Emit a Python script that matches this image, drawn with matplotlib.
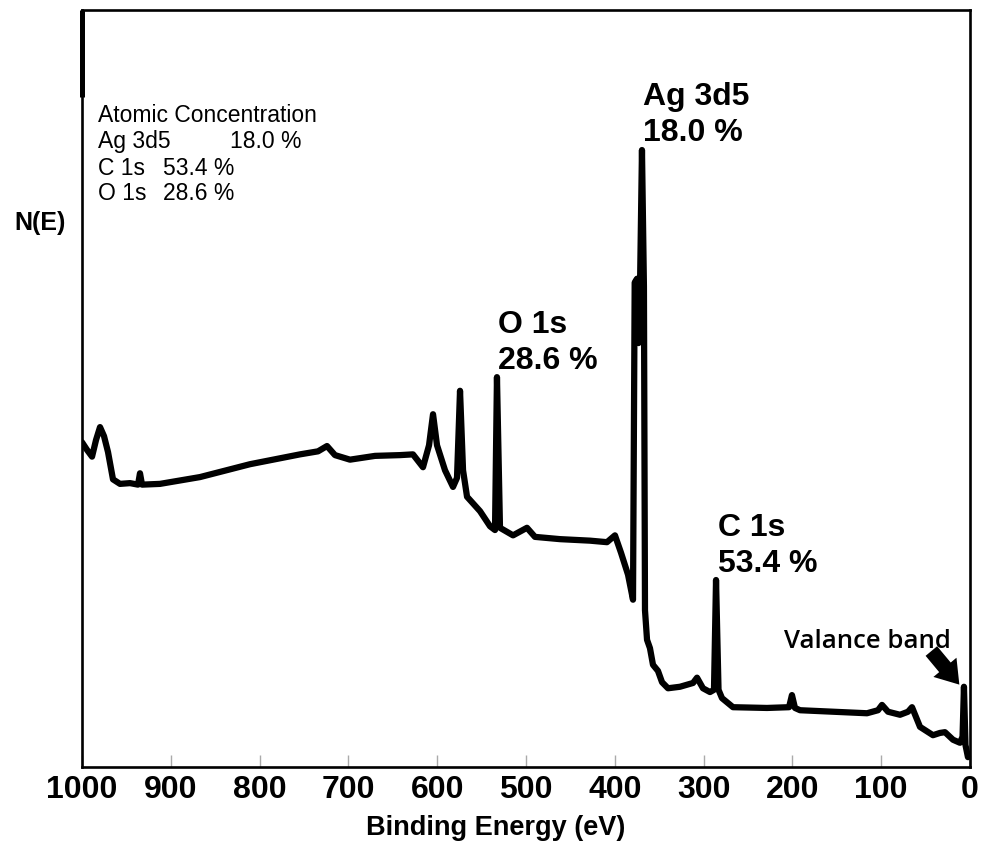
import matplotlib
matplotlib.use("Agg")
import matplotlib.pyplot as plt

# ---------------- data ----------------
binding_energy = [1000.0, 994.4, 988.7, 984.2, 979.7, 975.2, 970.7, 965.1, 957.2, 945.9,
                  936.9, 934.7, 932.4, 912.2, 867.1, 810.8, 754.5, 734.2, 724.1, 715.1,
                  698.2, 670.0, 641.9, 627.3, 616.0, 609.2, 604.7, 600.2, 591.2, 582.2,
                  577.7, 574.3, 570.9, 566.4, 551.8, 540.5, 534.9, 532.7, 529.3, 514.6,
                  498.9, 489.9, 461.7, 427.9, 408.8, 399.8, 393.0, 385.1, 379.5, 377.6,
                  375.0, 373.3, 371.6, 369.4, 367.2, 366.0, 363.7, 360.4, 357.0,
                  351.4, 346.8, 340.1, 326.6, 311.9, 307.4, 300.7, 292.8, 288.3, 286.0,
                  283.2, 279.3, 266.9, 228.6, 203.8, 200.5, 197.1, 191.4, 116.0, 103.6,
                  99.1, 92.3, 78.8, 69.8, 65.3, 60.8, 56.3, 41.7, 33.8, 28.2,
                  19.1, 11.3, 8.4, 6.8, 5.1, 2.3]
intensity = [42.9, 41.9, 41.0, 43.2, 44.9, 43.7, 41.6, 38.0, 37.4, 37.5,
             37.3, 38.8, 37.3, 37.4, 38.3, 40.0, 41.3, 41.7, 42.4, 41.2,
             40.6, 41.1, 41.2, 41.3, 39.6, 42.5, 46.6, 42.5, 39.2, 37.0,
             38.2, 49.7, 39.2, 35.7, 33.8, 31.8, 31.3, 51.5, 31.6, 30.6,
             31.6, 30.4, 30.1, 29.9, 29.7, 30.6, 28.3, 25.4, 22.1, 64.0,
             64.5, 56.0, 63.5, 81.5, 63.5, 20.7, 16.8, 15.7, 13.5,
             12.7, 11.2, 10.4, 10.6, 11.1, 11.8, 10.4, 9.9, 10.2, 24.7,
             10.2, 9.1, 7.9, 7.8, 7.9, 9.5, 7.8, 7.5, 7.1, 7.5,
             8.2, 7.3, 6.9, 7.3, 7.9, 6.6, 5.3, 4.2, 4.5, 4.6,
             3.6, 3.2, 4.0, 10.6, 2.9, 1.3]

tick_values = [1000, 900, 800, 700, 600, 500, 400, 300, 200, 100, 0]
tick_labels = ["1000", "900", "800", "700", "600", "500", "400", "300", "200", "100", "0"]

peak_labels = ["Ag 3d5", "O 1s", "C 1s"]
peak_percent = ["18.0 %", "28.6 %", "53.4 %"]
peak_label_pos = [(368.5, 87.5), (531.0, 57.3), (284.0, 30.5)]   # (BE, N(E)) of label baseline

conc_title = "Atomic Concentration"
conc_names = ["Ag 3d5", "C 1s", "O 1s"]
conc_values = ["18.0 %", "53.4 %", "28.6 %"]

vb_label = "Valance band"

# ---------------- figure ----------------
W, H = 981, 843
fig = plt.figure(figsize=(W / 100, H / 100), dpi=100)
L, R, T, B = 82, 970, 10, 767
ax = fig.add_axes([L / W, 1 - B / H, (R - L) / W, (B - T) / H])

ax.plot(binding_energy, intensity, color="black", lw=4.5,
        solid_joinstyle="round", solid_capstyle="round")

ax.set_xlim(1000, 0)
ax.set_ylim(0, 100)
ax.set_yticks([])
ax.set_xticks(tick_values)
ax.set_xticklabels(tick_labels, fontfamily="Liberation Sans",
                   fontweight="bold", fontsize=23)
ax.tick_params(axis="x", direction="in", length=9, width=1.0,
               color="#aaaaaa", pad=6)
for s in ax.spines.values():
    s.set_linewidth(1.9)
    s.set_color("black")
# thicker upper part of the left axis line
ax.plot([0, 0], [1, 1 - 87 / (B - T)], transform=ax.transAxes, color="black",
        lw=3.6, solid_capstyle="butt", clip_on=False)

# peak labels
for name, pct, (xb, yb) in zip(peak_labels, peak_percent, peak_label_pos):
    ax.text(xb, yb, name, fontfamily="Liberation Sans", fontweight="bold",
            fontsize=23, ha="left", va="baseline")
    ax.text(xb, yb - 36 / 7.57, pct, fontfamily="Liberation Sans",
            fontweight="bold", fontsize=23, ha="left", va="baseline")

# atomic concentration block
fs_small = 16.5
fig.text(98 / W, 1 - 122 / H, conc_title, fontfamily="Liberation Sans",
         fontsize=fs_small, ha="left", va="baseline")
val_x = [230, 163, 163]
base_y = [148, 175, 200]
for n, v, xv, yb in zip(conc_names, conc_values, val_x, base_y):
    fig.text(98 / W, 1 - yb / H, n, fontfamily="Liberation Sans",
             fontsize=fs_small, ha="left", va="baseline")
    fig.text(xv / W, 1 - yb / H, v, fontfamily="Liberation Sans",
             fontsize=fs_small, ha="left", va="baseline")

# axis titles
fig.text(40 / W, 1 - 230 / H, "N(E)", fontfamily="Liberation Sans",
         fontweight="bold", fontsize=18, ha="center", va="baseline")
fig.text(496 / W, 1 - 835 / H, "Binding Energy (eV)", fontfamily="Liberation Sans",
         fontweight="bold", fontsize=19.5, ha="center", va="baseline")

# valence band annotation
ax.text(115.5, 15.7, vb_label, fontfamily="Open Sans", fontweight="semibold",
        fontsize=18.5, ha="center", va="baseline")
ax.annotate("", xy=(10.0, 10.6), xytext=(45.5, 15.6),
            arrowprops=dict(arrowstyle="simple,head_width=1.2,head_length=0.9,tail_width=0.6",
                            mutation_scale=18, color="black", lw=0))

fig.savefig("out.png", dpi=100)
